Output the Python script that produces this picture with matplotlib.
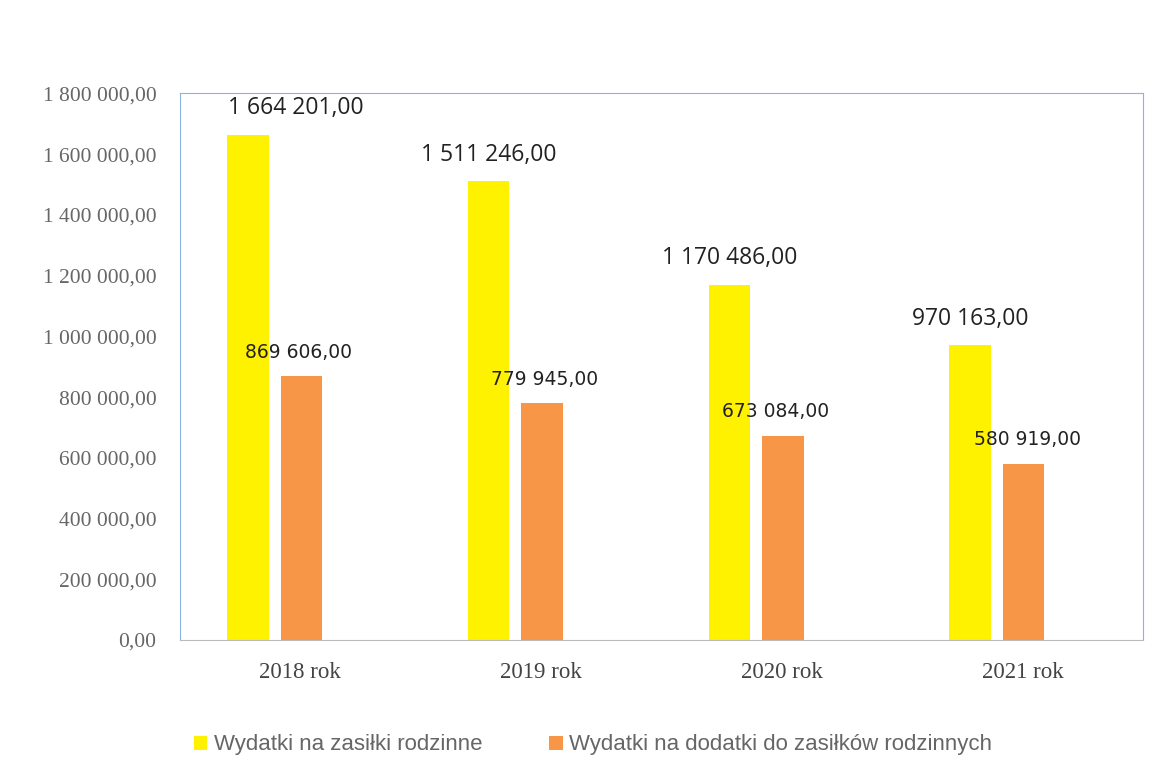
import matplotlib.pyplot as plt
import numpy as np

years = ["2018 rok", "2019 rok", "2020 rok", "2021 rok"]
zasilki = [1664201.00, 1511246.00, 1170486.00, 970163.00]
dodatki = [869606.00, 779945.00, 673084.00, 580919.00]
ticks = [0, 200000, 400000, 600000, 800000, 1000000, 1200000, 1400000, 1600000, 1800000]


def pl(v):
    s = f"{v:,.2f}"
    return s.replace(",", " ").replace(".", ",")


fig = plt.figure(figsize=(11.63, 7.72), dpi=100)
ax = fig.add_axes([0.1548, 0.171, 0.828, 0.708])

x = np.arange(len(years))
w = 0.172
b1 = ax.bar(x - 0.218, zasilki, width=w, color="#FFF200", label="Wydatki na zasiłki rodzinne")
b2 = ax.bar(x + 0.004, dodatki, width=w, color="#F79646", label="Wydatki na dodatki do zasiłków rodzinnych")

# yellow labels (first one shifted right as in the source)
shift1 = [0.2, 0, 0, 0]
for i, v in enumerate(zasilki):
    ax.annotate(pl(v), (x[i] - 0.218 + shift1[i], v), xytext=(0, 19), textcoords="offset points",
                ha="center", va="center", fontsize=16.5, family="Open Sans", color="#222222")
shift2 = [-0.01, 0.01, -0.03, 0.015]
for i, v in enumerate(dodatki):
    ax.annotate(pl(v), (x[i] + 0.004 + shift2[i], v), xytext=(0, 17), textcoords="offset points",
                ha="center", va="center", fontsize=13.5, family="DejaVu Sans", color="#222222")

ax.set_xlim(-0.5, 3.5)
ax.set_ylim(0, 1800000)
ax.set_yticks(ticks)
ax.set_yticklabels([pl(t) for t in ticks], family="Liberation Serif", fontsize=15.5, color="#666666")
ax.set_xticks(x)
ax.set_xticklabels(years, family="Liberation Serif", fontsize=16.5, color="#444444")
ax.tick_params(axis="x", length=0, pad=16)
ax.tick_params(axis="y", length=0, pad=17)

for s in ["left", "top", "right"]:
    ax.spines[s].set_color("#8DB3E2")
ax.spines["bottom"].set_color("#bbbbbb")

leg = fig.legend(handles=[b1, b2], loc="center", bbox_to_anchor=(0.51, 0.035), ncol=2, frameon=False,
                 handlelength=0.6, handleheight=0.6, handletextpad=0.3, columnspacing=3,
                 prop={"family": "Liberation Sans", "size": 16})
for t in leg.get_texts():
    t.set_color("#666666")

fig.savefig("out.png", dpi=100)
